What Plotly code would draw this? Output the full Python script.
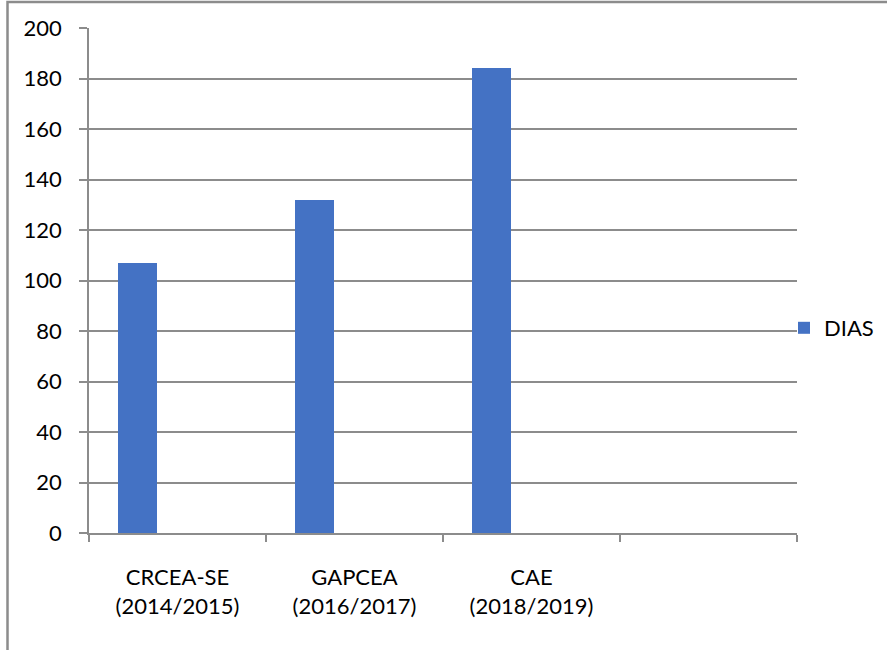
import plotly.graph_objects as go

categories = ["CRCEA-SE<br>(2014/2015)", "GAPCEA<br>(2016/2017)", "CAE<br>(2018/2019)", " "]
dias = [107, 132, 184, None]
y_ticks = [0, 20, 40, 60, 80, 100, 120, 140, 160, 180, 200]

FONT = "Lato, 'Open Sans', sans-serif"
GRID = "#8c8c8c"

fig = go.Figure()
fig.add_trace(go.Bar(
    x=categories, y=dias, name="DIAS",
    marker=dict(color="#4472C4", line=dict(width=0)),
    width=0.22, offset=-0.335,
))

L, R, T, B = 89, 90, 28, 117
W, H = 887, 650
pw, ph = W - L - R, H - T - B

fig.update_layout(
    width=W, height=H,
    margin=dict(l=L, r=R, t=T, b=B, autoexpand=False),
    paper_bgcolor="white", plot_bgcolor="white",
    font=dict(family=FONT, size=22, color="#000000"),
    showlegend=True,
    legend=dict(x=(784 - L) / pw, xanchor="left", y=(533 - 328) / ph, yanchor="middle",
                font=dict(size=22), itemwidth=30, bgcolor="rgba(0,0,0,0)"),
    bargap=0,
    xaxis=dict(
        type="category", categoryorder="array", categoryarray=categories,
        tickson="boundaries", ticks="outside", ticklen=7, tickcolor=GRID, tickwidth=1.5,
        showline=True, linecolor=GRID, linewidth=1.5, showgrid=False,
        tickfont=dict(size=22), fixedrange=True, automargin=False, ticklabelstandoff=24,
    ),
    yaxis=dict(
        range=[0, 200], tickvals=y_ticks, ticks="outside", ticklen=8, tickcolor=GRID, tickwidth=1.5,
        showline=True, linecolor=GRID, linewidth=1.5,
        showgrid=True, gridcolor=GRID, gridwidth=1.5, zeroline=False,
        tickfont=dict(size=22), ticklabelstandoff=13, automargin=False,
    ),
    shapes=[dict(
        type="rect", xref="paper", yref="paper",
        x0=(7.5 - L) / pw, x1=(900 - L) / pw, y0=(533 - 660) / ph, y1=(533 - 2) / ph,
        line=dict(color="#8c8c8c", width=2.5), fillcolor="rgba(0,0,0,0)", layer="below",
    )],
)

fig.write_html("out.html")
